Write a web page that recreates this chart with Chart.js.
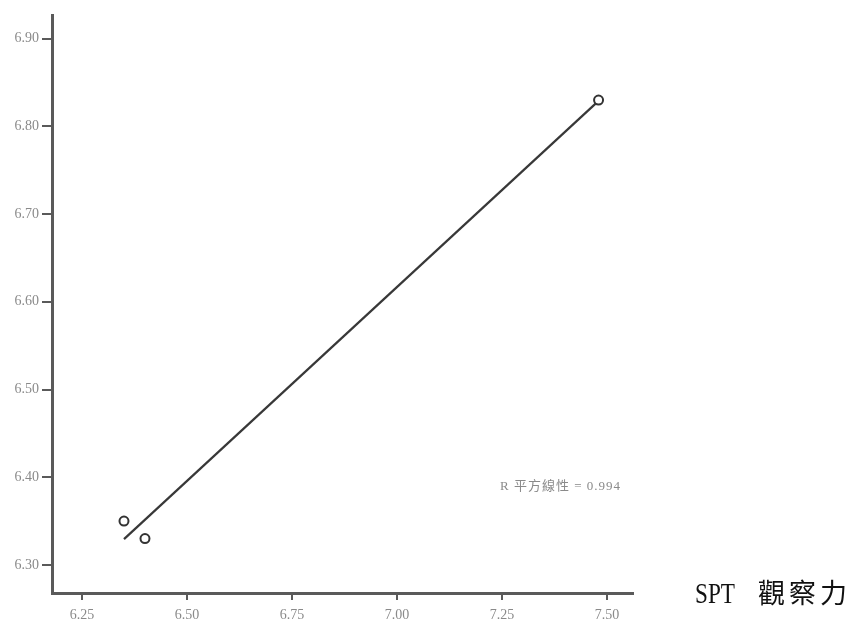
<!DOCTYPE html>
<html lang="zh-Hant">
  <head>
    <meta charset="utf-8" />
    <title>SPT 觀察力</title>
    <style>
      * {
        margin: 0;
        padding: 0;
      }
      body {
        background: #fff;
      }
    </style>
  </head>
  <body>
    <canvas id="myChart" width="853" height="624"></canvas>

    <script src="https://cdn.jsdelivr.net/npm/chart.js@4.4.0/dist/chart.umd.min.js"></script>

    <script>
      // data block
      const xValues = [6.35, 6.4, 7.48];
      const yValues = [6.35, 6.33, 6.83];
      const xTicks = [6.25, 6.5, 6.75, 7.0, 7.25, 7.5];
      const yTicks = [6.3, 6.4, 6.5, 6.6, 6.7, 6.8, 6.9];
      const xRange = [6.1786, 7.562];
      const yRange = [6.268, 6.927];
      const axisTitle = ["SPT", "觀察力"];

      // least squares line + R squared
      function linearFit(xs, ys) {
        const n = xs.length;
        const mx = xs.reduce((a, b) => a + b, 0) / n;
        const my = ys.reduce((a, b) => a + b, 0) / n;
        let sxy = 0, sxx = 0, syy = 0;
        for (let i = 0; i < n; i++) {
          sxy += (xs[i] - mx) * (ys[i] - my);
          sxx += (xs[i] - mx) ** 2;
          syy += (ys[i] - my) ** 2;
        }
        const slope = sxy / sxx;
        return { slope, intercept: my - slope * mx, r2: (sxy * sxy) / (sxx * syy) };
      }

      const fit = linearFit(xValues, yValues);
      const xLo = Math.min(...xValues);
      const xHi = Math.max(...xValues);
      const fitPoints = [xLo, xHi].map((x) => ({ x, y: fit.intercept + fit.slope * x }));
      const fitLabel = "R 平方線性 = " + fit.r2.toFixed(3);

      const axisColor = "#5a5a5a";
      const tickColor = "#8a8a8a";

      // text block
      const textLabels = {
        id: "textLabels",
        afterDraw(chart) {
          const { ctx, chartArea, scales } = chart;
          ctx.save();

          // R squared note
          ctx.fillStyle = tickColor;
          ctx.font = "13px 'Liberation Serif', 'Noto Sans CJK TC'";
          ctx.textBaseline = "middle";
          ctx.textAlign = "left";
          ctx.letterSpacing = "1px";
          ctx.fillText(fitLabel, scales.x.getPixelForValue(xTicks[4]) - 2, chartArea.bottom - 106);

          // x axis title, right of the axis
          const base = chartArea.bottom + 10;
          ctx.fillStyle = "#111";
          ctx.letterSpacing = "0px";
          ctx.font = "29px 'Liberation Serif'";
          ctx.textBaseline = "alphabetic";
          ctx.translate(chartArea.right + 62, base);
          ctx.scale(0.8, 1);
          ctx.fillText(axisTitle[0], 0, 0);
          ctx.setTransform(1, 0, 0, 1, 0, 0);

          ctx.font = "27px 'Noto Sans CJK TC'";
          ctx.letterSpacing = "4px";
          ctx.fillText(axisTitle[1], chartArea.right + 125, base);
          ctx.restore();
        },
      };

      const tickFont = { family: "'Liberation Serif', serif", size: 14 };

      // config block
      const config = {
        type: "scatter",
        data: {
          datasets: [
            {
              label: "observed",
              data: xValues.map((x, i) => ({ x, y: yValues[i] })),
              pointRadius: 4.5,
              pointHoverRadius: 4.5,
              pointBorderWidth: 2,
              pointBackgroundColor: "#fff",
              pointBorderColor: "#333",
              showLine: false,
              order: 1,
            },
            {
              label: "linear fit",
              data: fitPoints,
              showLine: true,
              borderColor: "#383838",
              borderWidth: 2.2,
              pointRadius: 0,
              order: 2,
            },
          ],
        },
        options: {
          responsive: false,
          animation: false,
          layout: { padding: { top: 15, right: 220, left: 0, bottom: 0 } },
          scales: {
            x: {
              type: "linear",
              min: xRange[0],
              max: xRange[1],
              afterBuildTicks: (s) => {
                s.ticks = xTicks.map((v) => ({ value: v }));
              },
              afterFit: (s) => {
                s.height = 31;
              },
              border: { display: true, color: axisColor, width: 3 },
              grid: {
                drawOnChartArea: false,
                drawTicks: true,
                tickLength: 7,
                color: axisColor,
                lineWidth: 2,
              },
              ticks: {
                color: tickColor,
                font: tickFont,
                padding: 7,
                maxRotation: 0,
                callback: (v) => Number(v).toFixed(2),
              },
            },
            y: {
              type: "linear",
              min: yRange[0],
              max: yRange[1],
              afterBuildTicks: (s) => {
                s.ticks = yTicks.map((v) => ({ value: v }));
              },
              afterFit: (s) => {
                s.width = 52;
              },
              border: { display: true, color: axisColor, width: 3 },
              grid: {
                drawOnChartArea: false,
                drawTicks: true,
                tickLength: 10,
                color: axisColor,
                lineWidth: 2,
              },
              ticks: {
                color: tickColor,
                font: tickFont,
                padding: 3,
                callback: (v) => Number(v).toFixed(2),
              },
            },
          },
          plugins: {
            legend: { display: false },
            tooltip: { enabled: false },
          },
        },
        plugins: [textLabels],
      };

      // init render block
      const myChart = new Chart(document.getElementById("myChart"), config);
    </script>
  </body>
</html>
